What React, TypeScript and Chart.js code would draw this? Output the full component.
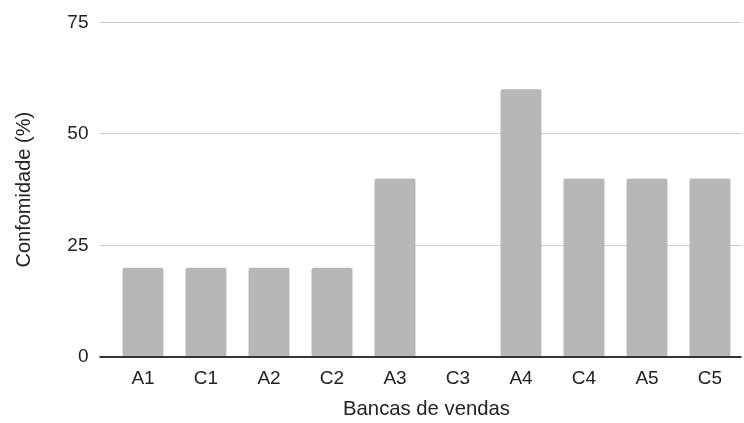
import React, { useEffect, useRef } from "react";
import { Chart, registerables } from "chart.js";

Chart.register(...registerables);

// Bancas de vendas e o respectivo percentual de conformidade
const categories = ["A1", "C1", "A2", "C2", "A3", "C3", "A4", "C4", "A5", "C5"];
const conformidade = [20, 20, 20, 20, 40, 0, 60, 40, 40, 40];
const yTicks = [0, 25, 50, 75];

const FONT = "'Liberation Sans', Arial, sans-serif";
const TEXT = "#222222";

export default function App() {
  const canvasRef = useRef<HTMLCanvasElement | null>(null);

  useEffect(() => {
    const canvas = canvasRef.current;
    if (!canvas) return;
    const chart = new Chart(canvas, {
      type: "bar",
      data: {
        labels: categories,
        datasets: [
          {
            label: "Conformidade (%)",
            data: conformidade,
            backgroundColor: "#b7b7b7",
            borderWidth: 0,
            borderRadius: 2,
            borderSkipped: "bottom",
            categoryPercentage: 1,
            barPercentage: 0.65,
          },
        ],
      },
      options: {
        responsive: false,
        animation: false,
        layout: { padding: { top: 21, right: 2.5, bottom: 0, left: 0 } },
        plugins: {
          legend: { display: false },
          tooltip: { enabled: false },
          title: { display: false },
        },
        scales: {
          x: {
            grid: { display: false },
            border: { display: false },
            ticks: {
              color: TEXT,
              font: { family: FONT, size: 19 },
              padding: 2,
              maxRotation: 0,
            },
            title: {
              display: true,
              text: "Bancas de vendas",
              color: TEXT,
              font: { family: FONT, size: 20.3 },
              padding: { top: 0, bottom: 1 },
            },
            afterFit: (scale: any) => {
              scale.height = 66;
            },
          },
          y: {
            min: 0,
            max: 75,
            afterBuildTicks: (scale: any) => {
              scale.ticks = yTicks.map((v) => ({ value: v }));
            },
            grid: {
              drawTicks: true,
              tickLength: 12,
              color: (ctx: any) => (ctx.tick && ctx.tick.value === 0 ? "#333333" : "#cccccc"),
              tickColor: (ctx: any) => (ctx.tick && ctx.tick.value === 0 ? "#333333" : "#cccccc"),
              lineWidth: (ctx: any) => (ctx.tick && ctx.tick.value === 0 ? 2 : 1),
            },
            border: { display: false },
            ticks: {
              color: TEXT,
              font: { family: FONT, size: 19 },
              padding: 11,
            },
            title: {
              display: true,
              text: "Confomidade (%)",
              color: TEXT,
              font: { family: FONT, size: 20 },
              padding: { top: 12, bottom: 0 },
            },
            afterFit: (scale: any) => {
              scale.width = 111.5;
            },
          },
        },
      },
    });
    return () => chart.destroy();
  }, []);

  return (
    <div style={{ position: "absolute", left: 0, top: 0, width: 744, height: 423, background: "#ffffff" }}>
      <canvas ref={canvasRef} width={744} height={423} style={{ display: "block" }} />
    </div>
  );
}
